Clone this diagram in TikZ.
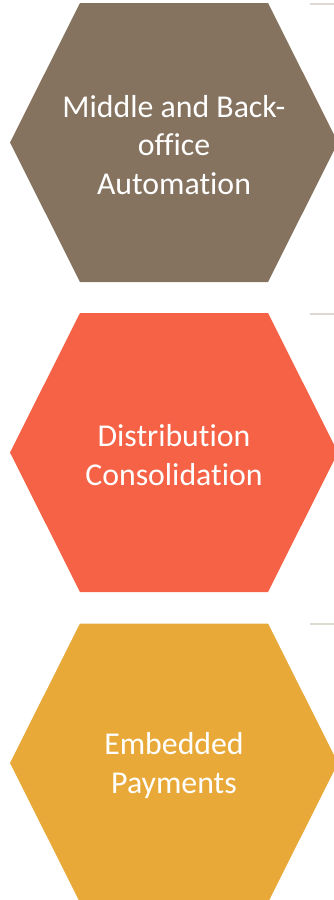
\documentclass[tikz,border=0pt]{standalone}
\usepackage{fontspec}
\setmainfont{Carlito}[Ligatures={NoCommon,NoRare,NoContextual}]
\usetikzlibrary{positioning,calc}

\definecolor{hexbrown}{HTML}{857360}
\definecolor{hexred}{HTML}{F56246}
\definecolor{hexgold}{HTML}{E8A939}
\definecolor{rulegray}{HTML}{DDD9D3}

\tikzset{
  hexlabel/.style={text=white,align=center,inner sep=0pt,yshift=-2.5pt,
    font=\fontsize{31.8}{38.5}\selectfont},
  tick/.style={rulegray,line width=2.2pt}
}

% one hexagon of half width 164, half height 139.5, centred on #1
\newcommand{\hexat}[2]{%
  \fill[#2] ($(#1)+(-164,0)$) -- ++(70,-139.5) -- ++(188,0) -- ++(70,139.5)
    -- ++(-70,139.5) -- ++(-188,0) -- cycle;}

\begin{document}
\begin{tikzpicture}[x=1pt,y=-1pt]
\useasboundingbox (0,0) rectangle (334,900);
\clip (0,0) rectangle (334,900);

\coordinate (c1) at (174,142.5);
\coordinate (c2) at (174,452.5);
\coordinate (c3) at (174,763);

\hexat{c1}{hexbrown}
\hexat{c2}{hexred}
\hexat{c3}{hexgold}

\node[hexlabel] (mbo) at (c1) {Middle and Back-\\office\\Automation};
\node[hexlabel] (dc)  at (c2) {Distribution\\Consolidation};
\node[hexlabel] (ep)  at (c3) {Embedded\\Payments};

% short rules to the right of each top edge
\foreach \y in {4,314,624}
  \draw[tick] (310,\y) -- (334,\y);
\end{tikzpicture}
\end{document}
